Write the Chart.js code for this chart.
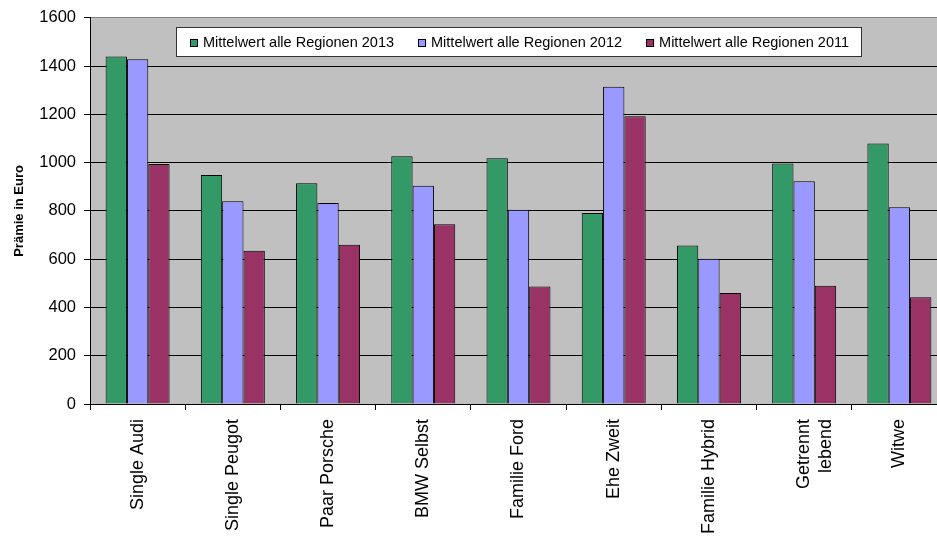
<!DOCTYPE html>
<html>
<head>
<meta charset="utf-8">
<script src="https://cdn.jsdelivr.net/npm/chart.js@4"></script>
<style>
html,body{margin:0;padding:0;background:#fff;overflow:hidden;width:937px;height:539px}
#wrap{position:relative;width:950px;height:539px}
</style>
</head>
<body>
<div id="wrap"><canvas id="c"></canvas></div>
<script>
const categories = ['Single Audi', 'Single Peugot', 'Paar Porsche', 'BMW Selbst', 'Familie Ford', 'Ehe Zweit', 'Familie Hybrid', ['Getrennt', 'lebend'], 'Witwe'];
const seriesNames = ['Mittelwert alle Regionen 2013', 'Mittelwert alle Regionen 2012', 'Mittelwert alle Regionen 2011'];
const values2013 = [1440, 949, 915, 1027, 1018, 791, 657, 997, 1079];
const values2012 = [1429, 840, 833, 904, 805, 1315, 602, 923, 815];
const values2011 = [995, 635, 660, 745, 487, 1192, 460, 490, 442];
const seriesColors = ['#339966', '#9999FF', '#993366'];
const yTicks = [0, 200, 400, 600, 800, 1000, 1200, 1400, 1600];
const yTitle = 'Prämie in Euro';

const FONT = "'Liberation Sans', Arial, sans-serif";
Chart.defaults.font.family = FONT;
Chart.defaults.color = '#000';

const plotBg = {
  id: 'plotBg',
  beforeDraw(chart) {
    const {ctx, chartArea: ca} = chart;
    ctx.save();
    ctx.fillStyle = '#C0C0C0';
    ctx.fillRect(ca.left, ca.top, ca.right - ca.left, ca.bottom - ca.top);
    ctx.restore();
  }
};

const boxLegend = {
  id: 'boxLegend',
  afterDraw(chart) {
    const {ctx, chartArea: ca} = chart;
    ctx.save();
    ctx.font = '14.5px ' + FONT;
    const sq = 8, gapT = 5, gapI = 24, padX = 13;
    const items = chart.data.datasets.map(d => ({label: d.label, color: d.backgroundColor, w: ctx.measureText(d.label).width}));
    const total = items.reduce((a, it) => a + sq + gapT + it.w, 0) + gapI * (items.length - 1);
    const boxW = total + 2 * padX;
    const cx = (ca.left + ca.right) / 2;
    const bx = Math.round(cx - boxW / 2) + 0.5, by = 27.5, bh = 29;
    ctx.fillStyle = '#fff';
    ctx.fillRect(bx, by, boxW, bh);
    ctx.strokeStyle = '#333';
    ctx.lineWidth = 1;
    ctx.strokeRect(bx, by, Math.round(boxW), bh);
    let x = Math.round(bx + padX);
    const cy = 43;
    items.forEach(it => {
      ctx.fillStyle = it.color;
      ctx.fillRect(x, cy - 4, sq, sq);
      ctx.strokeStyle = '#000';
      ctx.strokeRect(x + 0.5, cy - 3.5, sq - 1, sq - 1);
      x += sq + gapT;
      ctx.fillStyle = '#000';
      ctx.textBaseline = 'middle';
      ctx.textAlign = 'left';
      ctx.fillText(it.label, x, cy);
      x += it.w + gapI;
    });
    ctx.restore();
  }
};

const seriesValues = [values2013, values2012, values2011];

new Chart(document.getElementById('c'), {
  type: 'bar',
  data: {
    labels: categories,
    datasets: seriesNames.map((name, i) => ({
      label: name,
      data: seriesValues[i],
      backgroundColor: seriesColors[i],
      borderColor: '#000',
      borderWidth: 1,
      categoryPercentage: 0.672,
      barPercentage: 1
    }))
  },
  options: {
    responsive: true,
    maintainAspectRatio: false,
    animation: false,
    devicePixelRatio: 1,
    layout: {padding: {top: 15, right: 3, left: 0, bottom: 0}},
    plugins: {legend: {display: false}, tooltip: {enabled: false}},
    scales: {
      x: {
        afterFit(s) { s.height = 135; },
        ticks: {minRotation: 90, maxRotation: 90, autoSkip: false, color: '#000', font: {size: 18}, padding: 9},
        grid: {drawOnChartArea: false, drawTicks: true, tickLength: 6, color: '#000', offset: true},
        border: {color: '#000', width: 1}
      },
      y: {
        min: 0,
        max: 1600,
        afterFit(s) { s.width = 90; },
        afterBuildTicks(s) { s.ticks = yTicks.map(v => ({value: v})); },
        ticks: {color: '#000', font: {size: 16.5}, padding: 8, callback: v => String(v)},
        grid: {
          color: c => (c.tick && c.tick.value === 1600) ? '#808080' : '#000',
          tickColor: '#000',
          tickLength: 6,
          lineWidth: 1
        },
        border: {color: '#000', width: 1},
        title: {display: true, text: yTitle, color: '#000', font: {size: 13, weight: 'bold'}, padding: {top: 12, bottom: 0}}
      }
    }
  },
  plugins: [plotBg, boxLegend]
});
</script>
</body>
</html>
